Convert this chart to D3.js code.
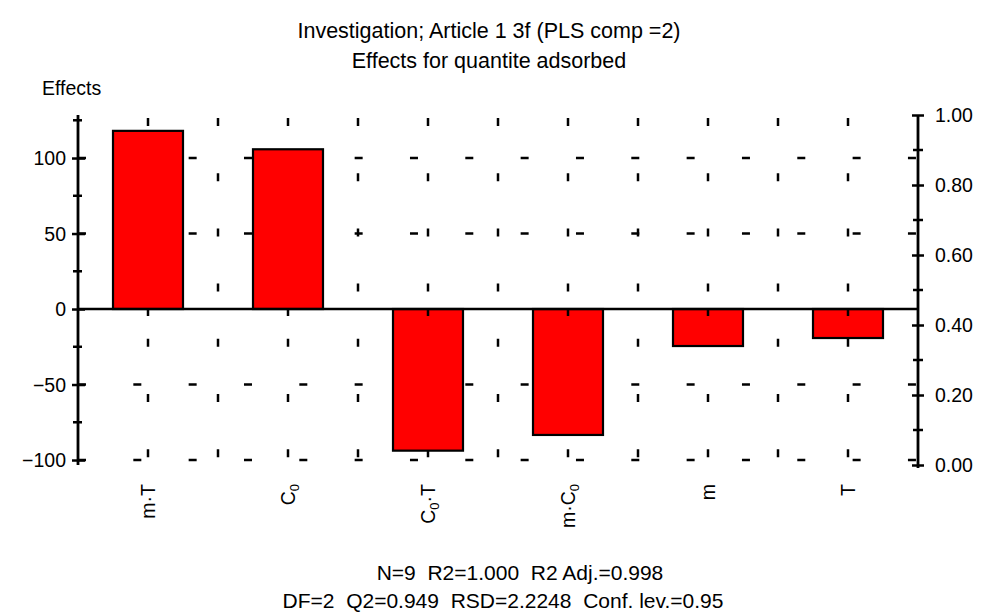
<!DOCTYPE html>
<html>
<head>
<meta charset="utf-8">
<script src="https://cdn.jsdelivr.net/npm/d3@7"></script>
<style>
  body { margin: 0; background: #fff; }
  svg text { font-family: "Liberation Sans", Arial, sans-serif; fill: #000; }
</style>
</head>
<body>
<svg id="chart" width="982" height="612"></svg>
<script>
// ---- data ----
const categories = [
  [{t: "m·T"}],
  [{t: "C"}, {t: "0", sub: true}],
  [{t: "C"}, {t: "0", sub: true}, {t: "·T"}],
  [{t: "m·C"}, {t: "0", sub: true}],
  [{t: "m"}],
  [{t: "T"}]
];
const categoryKeys = ["m·T", "C0", "C0·T", "m·C0", "m", "T"];
const effects = [118, 105.8, -93.8, -83.4, -24.5, -19.2];
const leftTicks = [-100, -50, 0, 50, 100];
const leftMinorTicks = [-75, -25, 25, 75, 125];
const rightTicks = [0, 0.2, 0.4, 0.6, 0.8, 1.0];
const rightMinorTicks = [0.1, 0.3, 0.5, 0.7, 0.9];
const gridLevels = [-100, -50, 50, 100];
const titleLines = ["Investigation; Article 1 3f (PLS comp =2)", "Effects for quantite adsorbed"];
const footerLines = ["N=9  R2=1.000  R2 Adj.=0.998", "DF=2  Q2=0.949  RSD=2.2248  Conf. lev.=0.95"];

// ---- layout ----
const svg = d3.select("#chart");
const x0 = 78, x1 = 918, yTop = 115, yBot = 465;

const x = d3.scaleBand().domain(categoryKeys).range([x0, x1]).paddingInner(0.5).paddingOuter(0.25);
const y = d3.scaleLinear().domain([-103.3, 128.5]).range([yBot, yTop]);
const yR = d3.scaleLinear().domain([0, 1]).range([yBot, yTop]);

// titles
svg.selectAll("text.title").data(titleLines).enter().append("text")
  .attr("x", 489).attr("y", (d, i) => 38 + i * 30)
  .attr("text-anchor", "middle").attr("font-size", 21.5).text(d => d);

svg.append("text").attr("x", 42).attr("y", 95).attr("font-size", 19.5).text("Effects");

// grid - horizontal dashed
const grid = svg.append("g").attr("stroke", "#000").attr("stroke-width", 2.5);
grid.selectAll("line.h").data(gridLevels).enter().append("line")
  .attr("x1", x0).attr("x2", x1)
  .attr("y1", d => y(d)).attr("y2", d => y(d))
  .attr("stroke-dasharray", "8,47.33");
// vertical dashed at band centers and midpoints
const step = x.step();
const vPos = d3.range(1, 12).map(k => x0 + k * step / 2);
grid.selectAll("line.v").data(vPos).enter().append("line")
  .attr("x1", d => d).attr("x2", d => d)
  .attr("y1", 118).attr("y2", yBot)
  .attr("stroke-dasharray", "8,47.2");

// bars
svg.append("g").selectAll("rect").data(effects).enter().append("rect")
  .attr("x", (d, i) => x(categoryKeys[i]))
  .attr("width", x.bandwidth())
  .attr("y", d => Math.min(y(d), y(0)))
  .attr("height", d => Math.abs(y(d) - y(0)))
  .attr("fill", "#ff0000").attr("stroke", "#000").attr("stroke-width", 2.2);

// zero line
svg.append("line").attr("x1", x0).attr("x2", x1).attr("y1", y(0)).attr("y2", y(0))
  .attr("stroke", "#000").attr("stroke-width", 2.5);
// ticks on zero line at bar centres
svg.append("g").selectAll("line").data(categoryKeys).enter().append("line")
  .attr("x1", d => x(d) + x.bandwidth() / 2).attr("x2", d => x(d) + x.bandwidth() / 2)
  .attr("y1", y(0)).attr("y2", y(0) + 7)
  .attr("stroke", "#000").attr("stroke-width", 2.5);

// left axis
const left = svg.append("g").attr("transform", `translate(${x0},0)`)
  .call(d3.axisLeft(y).tickValues(leftTicks).tickSize(6).tickPadding(6).tickFormat(d3.format("d")));
left.select(".domain").attr("d", `M0,${yTop}V${yBot}`).attr("stroke-width", 2.8);
left.selectAll(".tick line").attr("x1", -6).attr("x2", 7).attr("stroke-width", 2.5);
left.selectAll(".tick text").attr("font-size", 19.5).attr("font-family", "Liberation Sans, Arial, sans-serif").attr("dy", "0.35em");
left.selectAll("line.minor").data(leftMinorTicks).enter().append("line")
  .attr("x1", -5).attr("x2", 4).attr("y1", d => y(d)).attr("y2", d => y(d))
  .attr("stroke", "#000").attr("stroke-width", 2.5);

// right axis
const right = svg.append("g").attr("transform", `translate(${x1},0)`)
  .call(d3.axisRight(yR).tickValues(rightTicks).tickSize(6).tickPadding(11).tickFormat(d3.format(".2f")));
right.select(".domain").attr("d", `M0,${yTop}V${yBot + 3}`).attr("stroke-width", 2.8);
right.selectAll(".tick line").attr("x1", -6).attr("x2", 6).attr("stroke-width", 2.5);
right.selectAll(".tick text").attr("font-size", 19.5).attr("font-family", "Liberation Sans, Arial, sans-serif").attr("dy", "0.35em");
right.selectAll("line.minor").data(rightMinorTicks).enter().append("line")
  .attr("x1", -5).attr("x2", 5).attr("y1", d => yR(d)).attr("y2", d => yR(d))
  .attr("stroke", "#000").attr("stroke-width", 2.5);

// x labels (rotated)
const labels = svg.append("g").selectAll("text").data(categories).enter().append("text")
  .attr("transform", (d, i) => `translate(${x(categoryKeys[i]) + x.bandwidth() / 2 + 7},484) rotate(-90)`)
  .attr("text-anchor", "end").attr("font-size", 19.5);
labels.each(function(parts) {
  const t = d3.select(this);
  parts.forEach((p, j) => {
    const ts = t.append("tspan").text(p.t);
    if (p.sub) ts.attr("font-size", 13).attr("dy", 4);
    else if (j > 0 && parts[j - 1].sub) ts.attr("dy", -4);
  });
});

// footer
const footerX = [520, 503];
svg.selectAll("text.footer").data(footerLines).enter().append("text")
  .attr("x", (d, i) => footerX[i]).attr("y", (d, i) => 580 + i * 28)
  .attr("text-anchor", "middle").attr("font-size", 21)
  .attr("xml:space", "preserve").style("white-space", "pre").text(d => d);
</script>
</body>
</html>
